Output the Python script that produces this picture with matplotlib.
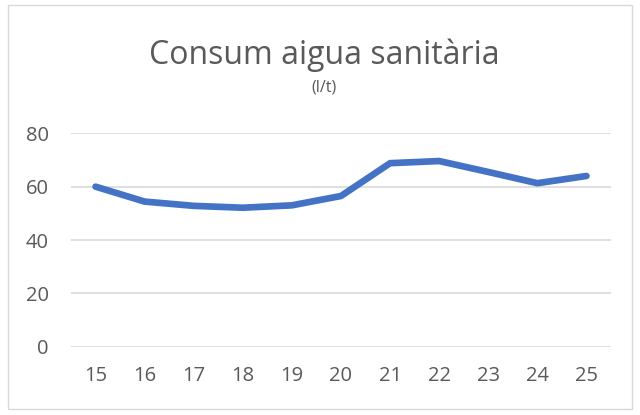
import matplotlib.pyplot as plt
from matplotlib.patches import Rectangle

dies = ["15", "16", "17", "18", "19", "20", "21", "22", "23", "24", "25"]
consum = [60, 54.4, 52.8, 52.1, 53.0, 56.5, 68.8, 69.6, 65.5, 61.3, 64.0]
yticks = [0, 20, 40, 60, 80]

gris = "#595959"
plt.rcParams['font.family'] = ['Open Sans', 'DejaVu Sans']

fig = plt.figure(figsize=(6.4, 4.15), dpi=100)
fig.patches.append(Rectangle((8 / 640, 1 - 409 / 415), 624 / 640, 404 / 415,
                             transform=fig.transFigure, fill=False,
                             edgecolor="#D9D9D9", linewidth=1))

ax = fig.add_axes([71 / 640, 1 - 346.7 / 415, 540 / 640, 213.4 / 415])
x = range(len(dies))
ax.plot(x, consum, color="#4472C4", linewidth=4.8, solid_capstyle="round",
        solid_joinstyle="round")
ax.set_xlim(-0.5, len(dies) - 0.5)
ax.set_ylim(0, 80)
ax.set_yticks(yticks)
ax.set_xticks(list(x))
ax.set_xticklabels(dies)
ax.grid(axis="y", color="#D9D9D9", linewidth=1.2)
ax.set_axisbelow(True)
for s in ax.spines.values():
    s.set_visible(False)
ax.tick_params(length=0, labelsize=14.5, labelcolor=gris)
ax.tick_params(axis="y", pad=16)
ax.tick_params(axis="x", pad=14)

fig.text(324 / 640, 1 - 55 / 415, "Consum aigua sanitària", ha="center",
         va="center", fontsize=23, color=gris)
fig.text(324 / 640, 1 - 88 / 415, "(l/t)", ha="center", va="center",
         fontsize=11.5, color=gris)

fig.savefig("out.png", dpi=100)
